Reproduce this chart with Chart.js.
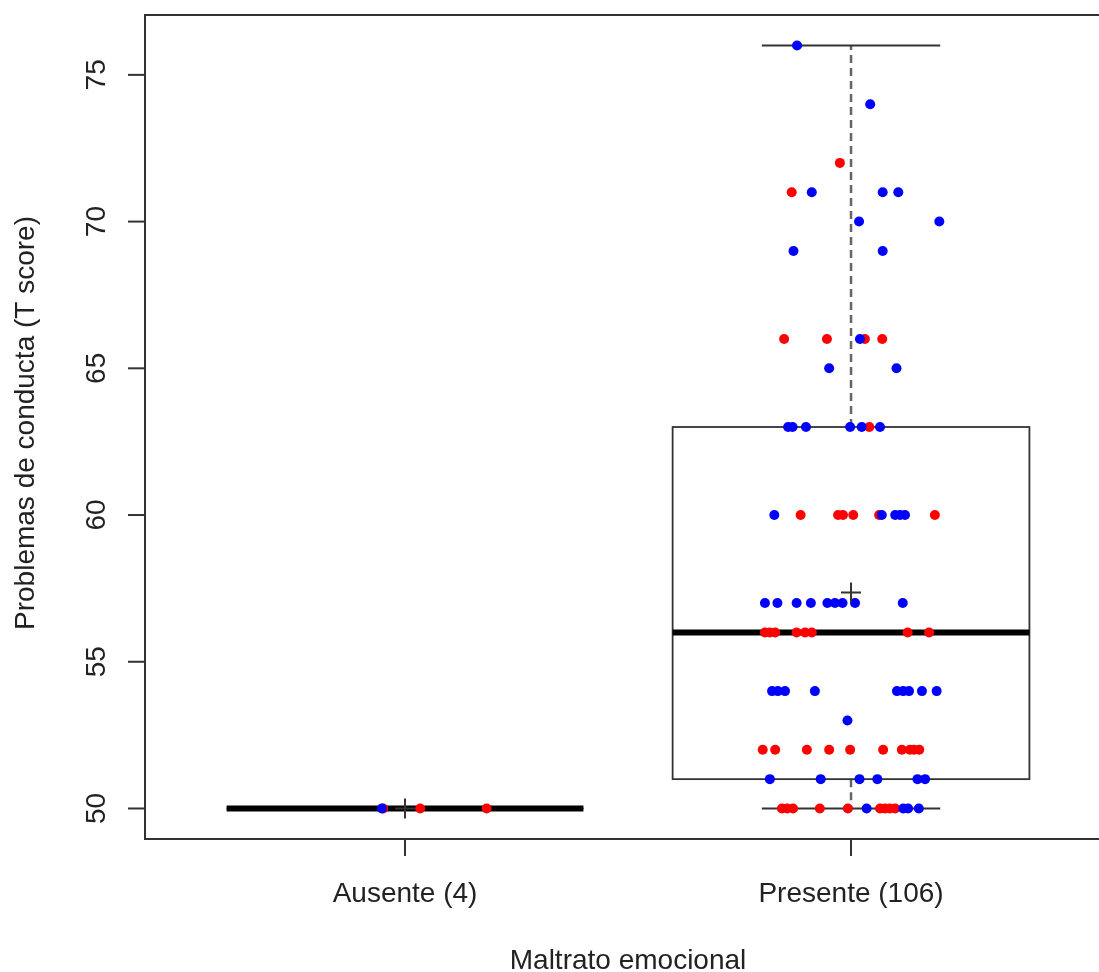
<!DOCTYPE html>
<html>
<head>
<meta charset="utf-8">
<script src="https://cdn.jsdelivr.net/npm/chart.js@4.4.1/dist/chart.umd.min.js"></script>
<style>
  html, body { margin: 0; padding: 0; background: #fff; }
  canvas { display: block; }
</style>
</head>
<body>
<canvas id="chart" width="1099" height="972"></canvas>
<script>
// Categories and tick labels
const categories = ["Ausente (4)", "Presente (106)"];
const yTicks = [50, 55, 60, 65, 70, 75];
const xTitle = "Maltrato emocional";
const yTitle = "Problemas de conducta (T score)";

// Box statistics per category
const q1 = [50, 51];
const medians = [50, 56];
const q3 = [50, 63];
const whiskerLow = [50, 50];
const whiskerHigh = [50, 76];
const means = [50, 57.36];

// Jittered points (x in category units, 1 = Ausente, 2 = Presente)
const blueX = [
  0.948,
  1.879, 2.043,
  1.912, 2.071, 2.106,
  2.018, 2.198,
  1.871, 2.071,
  2.020,
  1.951, 2.102,
  1.859, 1.869, 1.899, 1.998, 2.024, 2.065,
  1.828, 2.069, 2.099, 2.110, 2.121,
  1.807, 1.835, 1.878, 1.910, 1.947, 1.964, 1.981, 2.009, 2.116,
  1.823, 1.836, 1.852, 1.919, 2.103, 2.117, 2.130, 2.159, 2.192,
  1.992,
  1.818, 1.932, 2.019, 2.059, 2.149, 2.166,
  2.035, 2.117, 2.128, 2.152
];
const blueY = [
  50,
  76, 74,
  71, 71, 71,
  70, 70,
  69, 69,
  66,
  65, 65,
  63, 63, 63, 63, 63, 63,
  60, 60, 60, 60, 60,
  57, 57, 57, 57, 57, 57, 57, 57, 57,
  54, 54, 54, 54, 54, 54, 54, 54, 54,
  53,
  51, 51, 51, 51, 51, 51,
  50, 50, 50, 50
];
const redX = [
  0.951, 1.034, 1.183,
  1.975,
  1.867,
  1.850, 1.946, 2.031, 2.070,
  2.041,
  1.887, 1.971, 1.982, 2.005, 2.063, 2.188,
  1.807, 1.818, 1.830, 1.878, 1.897, 1.912, 2.127, 2.175,
  1.802, 1.830, 1.901, 1.951, 1.998, 2.072, 2.114, 2.132, 2.141, 2.153,
  1.845, 1.857, 1.870, 1.930, 1.993, 2.065, 2.076, 2.087, 2.099
];
const redY = [
  50, 50, 50,
  72,
  71,
  66, 66, 66, 66,
  63,
  60, 60, 60, 60, 60, 60,
  56, 56, 56, 56, 56, 56, 56, 56,
  52, 52, 52, 52, 52, 52, 52, 52, 52, 52,
  50, 50, 50, 50, 50, 50, 50, 50, 50
];

const FONT = "'Liberation Sans', Arial, Helvetica, sans-serif";
const TEXT_COLOR = "#222";
const BOX_HALF = 0.4;
const CAP_HALF = 0.2;
const X_MIN = 0.417;

function toPoints(xs, ys) {
  return xs.map((x, i) => ({ x: x, y: ys[i] }));
}

// Draws the boxes, whiskers and medians under the points
const boxPlugin = {
  id: "boxes",
  beforeDatasetsDraw(chart) {
    const ctx = chart.ctx;
    const xs = chart.scales.x;
    const ys = chart.scales.y;
    ctx.save();
    categories.forEach((cat, i) => {
      const c = i + 1;
      const left = xs.getPixelForValue(c - BOX_HALF);
      const right = xs.getPixelForValue(c + BOX_HALF);
      const mid = xs.getPixelForValue(c);
      const capL = xs.getPixelForValue(c - CAP_HALF);
      const capR = xs.getPixelForValue(c + CAP_HALF);
      const yQ1 = ys.getPixelForValue(q1[i]);
      const yQ3 = ys.getPixelForValue(q3[i]);
      const yMed = ys.getPixelForValue(medians[i]);
      const yLo = ys.getPixelForValue(whiskerLow[i]);
      const yHi = ys.getPixelForValue(whiskerHigh[i]);

      // dashed whiskers
      ctx.strokeStyle = "#666";
      ctx.lineWidth = 2.5;
      ctx.setLineDash([8, 5]);
      ctx.beginPath();
      ctx.moveTo(mid, yQ3);
      ctx.lineTo(mid, yHi);
      ctx.moveTo(mid, yQ1);
      ctx.lineTo(mid, yLo);
      ctx.stroke();
      ctx.setLineDash([]);

      // caps
      ctx.strokeStyle = "#333";
      ctx.lineWidth = 2;
      ctx.beginPath();
      ctx.moveTo(capL, yHi);
      ctx.lineTo(capR, yHi);
      ctx.moveTo(capL, yLo);
      ctx.lineTo(capR, yLo);
      ctx.stroke();

      // box
      ctx.strokeStyle = "#333";
      ctx.lineWidth = 1.8;
      ctx.strokeRect(left, yQ3, right - left, yQ1 - yQ3);

      // median
      ctx.strokeStyle = "#000";
      ctx.lineWidth = 6;
      ctx.beginPath();
      ctx.moveTo(left, yMed);
      ctx.lineTo(right, yMed);
      ctx.stroke();
    });
    ctx.restore();
  },
  afterDraw(chart) {
    const ctx = chart.ctx;
    const xs = chart.scales.x;
    const ys = chart.scales.y;
    const area = chart.chartArea;
    ctx.save();

    // frame (right side falls outside the picture)
    ctx.strokeStyle = "#333";
    ctx.lineWidth = 2;
    ctx.beginPath();
    ctx.moveTo(chart.width, area.top);
    ctx.lineTo(area.left, area.top);
    ctx.lineTo(area.left, area.bottom);
    ctx.lineTo(chart.width, area.bottom);
    ctx.stroke();

    // y ticks and labels
    ctx.fillStyle = TEXT_COLOR;
    ctx.font = "28px " + FONT;
    yTicks.forEach((v) => {
      const y = ys.getPixelForValue(v);
      ctx.beginPath();
      ctx.moveTo(area.left - 17, y);
      ctx.lineTo(area.left, y);
      ctx.stroke();
      ctx.save();
      ctx.translate(105, y);
      ctx.rotate(-Math.PI / 2);
      ctx.textAlign = "center";
      ctx.textBaseline = "alphabetic";
      ctx.fillText(String(v), 0, 0);
      ctx.restore();
    });

    // x ticks and labels
    categories.forEach((cat, i) => {
      const x = xs.getPixelForValue(i + 1);
      ctx.beginPath();
      ctx.moveTo(x, area.bottom);
      ctx.lineTo(x, area.bottom + 17);
      ctx.stroke();
      ctx.textAlign = "center";
      ctx.textBaseline = "alphabetic";
      ctx.fillText(cat, x, 902);
    });

    // axis titles, centred on the full (symmetric) plot region
    const plotCenter = (area.left + xs.getPixelForValue(3 - X_MIN)) / 2;
    ctx.fillText(xTitle, plotCenter, 969);
    ctx.save();
    ctx.translate(34, (area.top + area.bottom) / 2 - 4);
    ctx.rotate(-Math.PI / 2);
    ctx.textAlign = "center";
    ctx.fillText(yTitle, 0, 0);
    ctx.restore();

    ctx.restore();
  }
};

new Chart(document.getElementById("chart"), {
  type: "scatter",
  data: {
    datasets: [
      {
        label: "media",
        data: toPoints([1, 2], means),
        pointStyle: "cross",
        pointRadius: 10,
        borderColor: "#333",
        borderWidth: 2,
        order: 0
      },
      {
        label: "azul",
        data: toPoints(blueX, blueY),
        pointStyle: "circle",
        pointRadius: 5,
        backgroundColor: "#0000ff",
        borderColor: "#0000ff",
        borderWidth: 0,
        order: 1
      },
      {
        label: "rojo",
        data: toPoints(redX, redY),
        pointStyle: "circle",
        pointRadius: 5,
        backgroundColor: "#ff0000",
        borderColor: "#ff0000",
        borderWidth: 0,
        order: 2
      }
    ]
  },
  options: {
    responsive: false,
    animation: false,
    devicePixelRatio: 1,
    layout: {
      autoPadding: false,
      padding: { left: 145, top: 15, right: 0, bottom: 133 }
    },
    scales: {
      x: { type: "linear", min: X_MIN, max: 2.556, display: false },
      y: { type: "linear", min: 48.96, max: 77.04, display: false }
    },
    plugins: {
      legend: { display: false },
      tooltip: { enabled: false }
    }
  },
  plugins: [boxPlugin]
});
</script>
</body>
</html>
